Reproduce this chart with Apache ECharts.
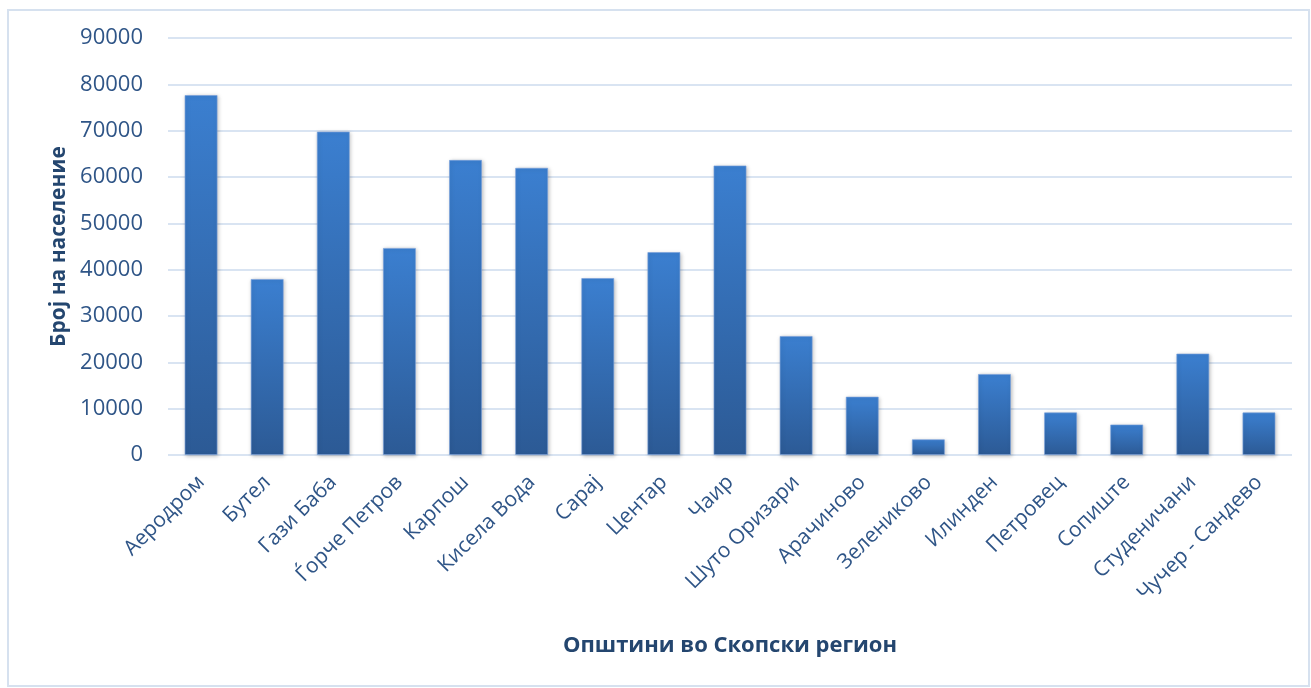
<!DOCTYPE html>
<html><head><meta charset="utf-8">
<script src="https://cdn.jsdelivr.net/npm/echarts@6/dist/echarts.min.js"></script>
<style>html,body{margin:0;padding:0;background:#fff}#c{width:1311px;height:688px}</style>
</head><body><div id="c"></div>
<script>
const categories = ['Аеродром','Бутел','Гази Баба','Ѓорче Петров','Карпош','Кисела Вода','Сарај','Центар','Чаир','Шуто Оризари','Арачиново','Зелениково','Илинден','Петровец','Сопиште','Студеничани','Чучер - Сандево'];
const population = [77700,38000,69800,44700,63700,62000,38200,43800,62500,25700,12600,3400,17500,9200,6600,21900,9200];
const yTicks = {min:0,max:90000,interval:10000};
const xTitle = 'Општини во Скопски регион';
const yTitle = 'Број на население';

const chart = echarts.init(document.getElementById('c'));
const txt = '#2f5587';
chart.setOption({
  animation:false,
  graphic:[{type:'rect',shape:{x:8,y:10,width:1301,height:676},style:{fill:'none',stroke:'#d6e1ef',lineWidth:2},silent:true}],
  grid:{left:168,right:19,top:38,bottom:233},
  xAxis:{type:'category',data:categories,
    axisLine:{show:false},axisTick:{show:false},
    axisLabel:{rotate:45,interval:0,margin:24,color:txt,fontFamily:'Open Sans',fontSize:21},
    name:xTitle,nameLocation:'middle',nameGap:180,
    nameTextStyle:{color:'#24466f',fontFamily:'Open Sans',fontWeight:'bold',fontSize:22}},
  yAxis:{type:'value',min:yTicks.min,max:yTicks.max,interval:yTicks.interval,
    axisLine:{show:false},axisTick:{show:false},
    splitLine:{lineStyle:{color:'#d9e4f2',width:2}},
    axisLabel:{color:txt,fontFamily:'Open Sans',fontSize:22,margin:25,formatter:v=>String(v)},
    name:yTitle,nameLocation:'middle',nameGap:98,nameRotate:90,
    nameTextStyle:{color:'#24466f',fontFamily:'Open Sans',fontWeight:'bold',fontSize:21}},
  series:[{type:'bar',data:population,barWidth:'50%',
    itemStyle:{
      color:new echarts.graphic.LinearGradient(0,0,0,1,[{offset:0,color:'#3b7fd0'},{offset:1,color:'#2c5a95'}]),
      borderColor:'rgba(120,160,220,0.6)',borderWidth:1,
      shadowBlur:4,shadowColor:'rgba(0,0,0,0.25)',shadowOffsetX:1,shadowOffsetY:1}}]
});
</script></body></html>
